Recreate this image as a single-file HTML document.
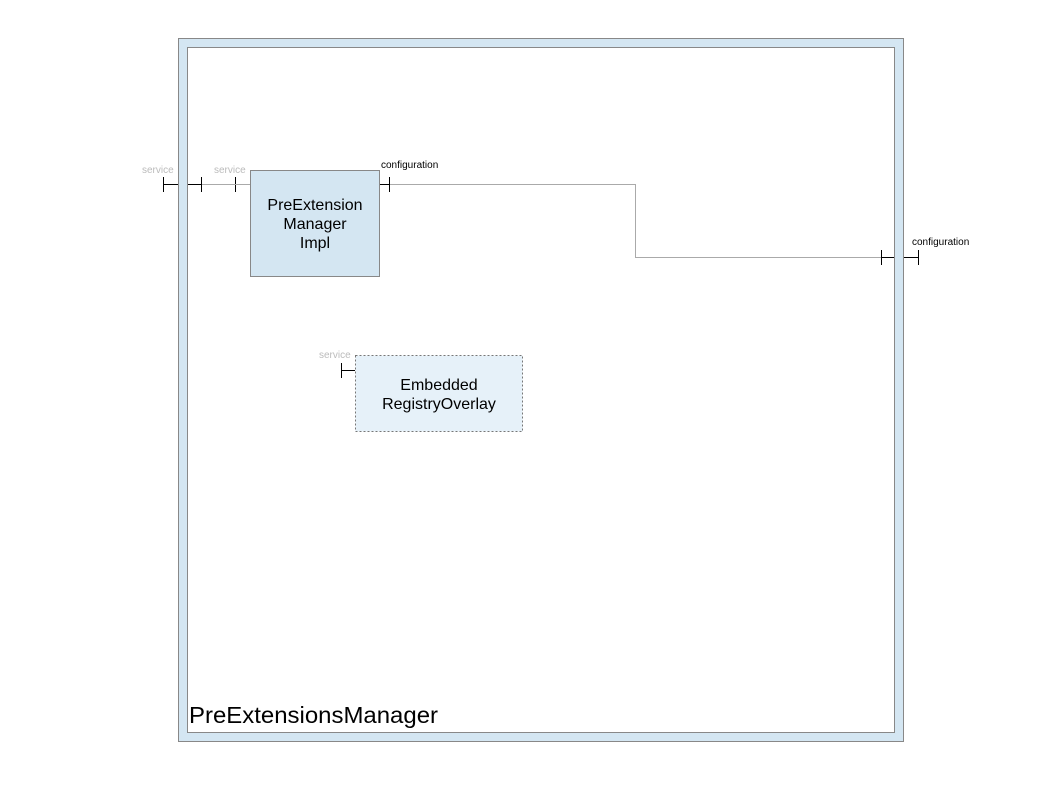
<!DOCTYPE html>
<html><head><meta charset="utf-8"><style>
html,body{margin:0;padding:0;background:#fff;}
svg{display:block;font-family:"Liberation Sans",sans-serif;}
</style></head><body>
<svg width="1058" height="794" viewBox="0 0 1058 794" xmlns="http://www.w3.org/2000/svg">
<rect x="178.5" y="38.5" width="725" height="703" fill="#d4e6f2" stroke="#888"/>
<rect x="187.5" y="47.5" width="707" height="685" fill="#fff" stroke="#888"/>
<text x="189" y="723" font-size="23" fill="#000" textLength="249" lengthAdjust="spacingAndGlyphs">PreExtensionsManager</text>
<g stroke="#000" stroke-width="1">
<line x1="163" y1="184.5" x2="178" y2="184.5"/>
<line x1="163.5" y1="177" x2="163.5" y2="192"/>
<line x1="188" y1="184.5" x2="201" y2="184.5"/>
<line x1="201.5" y1="177" x2="201.5" y2="192"/>
<line x1="235.5" y1="177" x2="235.5" y2="192"/>
<line x1="379" y1="184.5" x2="389" y2="184.5"/>
<line x1="389.5" y1="177" x2="389.5" y2="192"/>
<line x1="881.5" y1="250" x2="881.5" y2="265"/>
<line x1="882" y1="257.5" x2="894" y2="257.5"/>
<line x1="904" y1="257.5" x2="918" y2="257.5"/>
<line x1="918.5" y1="250" x2="918.5" y2="265"/>
<line x1="341.5" y1="363" x2="341.5" y2="378"/>
<line x1="341" y1="370.5" x2="355" y2="370.5"/>
</g>
<g stroke="#aaa" fill="none">
<line x1="202" y1="184.5" x2="250" y2="184.5"/>
<polyline points="390,184.5 635.5,184.5 635.5,257.5 881,257.5"/>
</g>
<text x="142" y="173" font-size="10" fill="#bbb">service</text>
<text x="214" y="173" font-size="10" fill="#bbb">service</text>
<text x="381" y="168" font-size="10" fill="#000">configuration</text>
<text x="912" y="245" font-size="10" fill="#000">configuration</text>
<text x="319" y="358" font-size="10" fill="#bbb">service</text>
<rect x="250.5" y="170.5" width="129" height="106" fill="#d4e6f2" stroke="#888"/>
<g font-size="16" fill="#000" text-anchor="middle">
<text x="315" y="210">PreExtension</text>
<text x="315" y="229">Manager</text>
<text x="315" y="248">Impl</text>
</g>
<rect x="355.5" y="355.5" width="167" height="76" fill="#e6f1f9" stroke="#777" stroke-dasharray="2,2"/>
<g font-size="16" fill="#000" text-anchor="middle">
<text x="439" y="390">Embedded</text>
<text x="439" y="409">RegistryOverlay</text>
</g>
</svg>
</body></html>
